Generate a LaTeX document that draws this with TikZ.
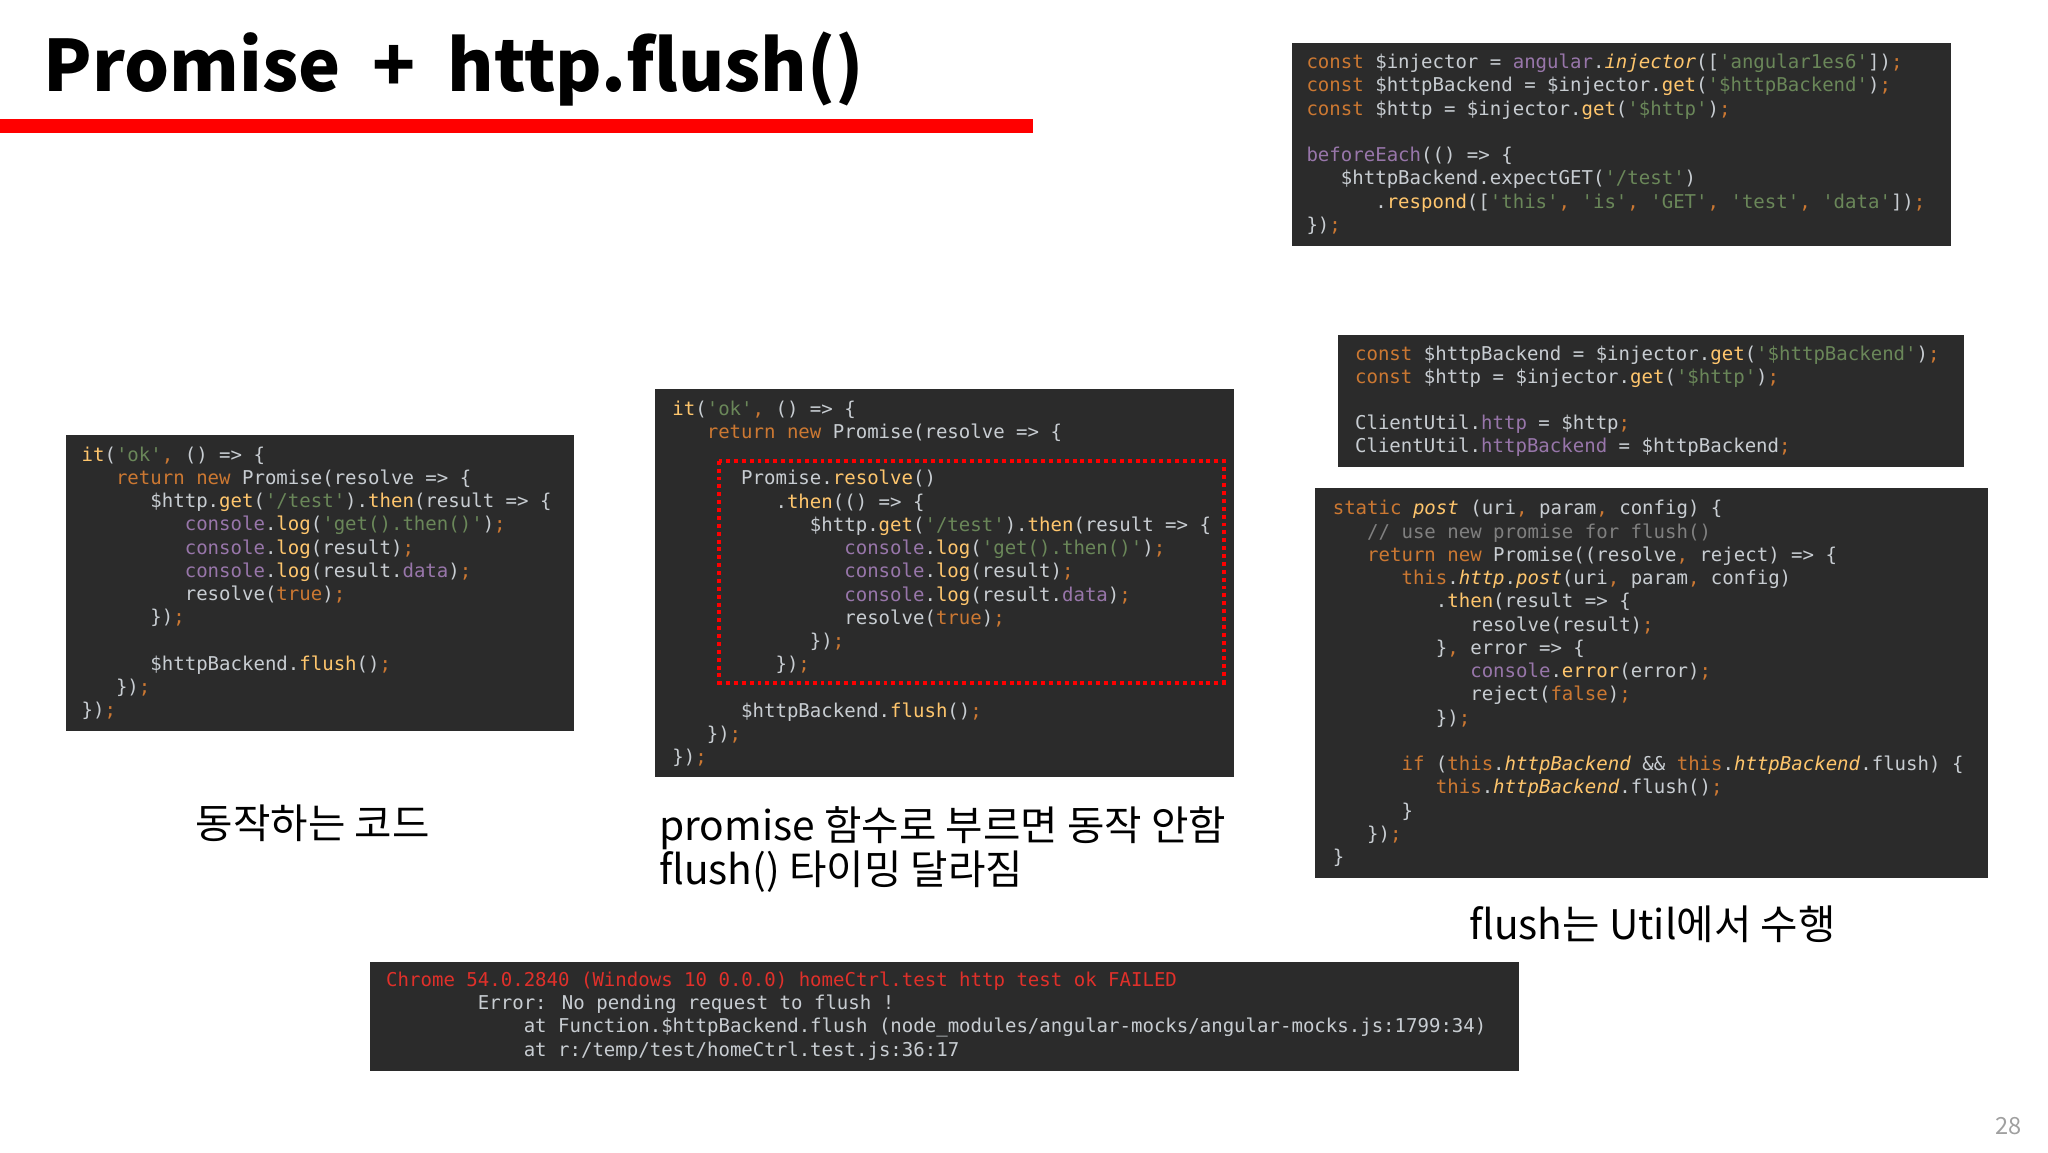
\documentclass[tikz,border=0pt]{standalone}
\usepackage{fontspec}
\setmainfont{Noto Sans CJK KR}
\newfontfamily\codefont{DejaVu Sans Mono}
\newfontfamily\krfont{Noto Sans CJK KR}
\definecolor{codebg}{HTML}{2B2B2B}
\definecolor{codefg}{HTML}{C8CDD2}
\definecolor{ckw}{HTML}{CC7832}
\definecolor{cstr}{HTML}{6A8759}
\definecolor{cpu}{HTML}{9876AA}
\definecolor{cye}{HTML}{FFC66D}
\definecolor{cerr}{HTML}{E0302A}
\definecolor{pgray}{HTML}{A0A0A0}
\newcommand\Kw[1]{\textcolor{ckw}{#1}}
\newcommand\Str[1]{\textcolor{cstr}{#1}}
\newcommand\Pu[1]{\textcolor{cpu}{#1}}
\newcommand\Ye[1]{\textcolor{cye}{#1}}
\newcommand\ind[1]{\hspace*{#1\dimexpr0.602em\relax}}
\tikzset{
  codebox/.style={fill=codebg, draw=none},
  code/.style={anchor=north west, align=left, inner sep=0pt, text=codefg,
    font=\codefont\fontsize{14.5}{17.7}\selectfont},
  caption/.style={anchor=base west, inner sep=0pt, font=\krfont\fontsize{31}{36}\selectfont, text=black}
}
\begin{document}
\begin{tikzpicture}[x=1pt,y=-1pt]
\useasboundingbox (0,0) rectangle (1560,878);
% title
\node[anchor=base west, inner sep=0pt, font=\krfont\bfseries\fontsize{54}{60}\selectfont] (title) at (33,70) {Promise\hspace{0.45em}+\hspace{0.45em}http.flush()};
\fill[red] (0,91) rectangle (787,101);
% block A
\fill[codebox] (984,33) rectangle (1486,187);
\node[code] (ca) at (995,41) {\Kw{const} \$injector = \Pu{angular}.\Ye{\textit{injector}}([\Str{'angular1es6'}])\Kw{;}\\
\Kw{const} \$httpBackend = \$injector.\Ye{get}(\Str{'\$httpBackend'})\Kw{;}\\
\Kw{const} \$http = \$injector.\Ye{get}(\Str{'\$http'})\Kw{;}\\
\mbox{}\\
\Pu{beforeEach}(() => \{\\
\ind3\$httpBackend.expectGET(\Str{'/test'})\\
\ind6.\Ye{respond}([\Str{'this'}\Kw{,} \Str{'is'}\Kw{,} \Str{'GET'}\Kw{,} \Str{'test'}\Kw{,} \Str{'data'}])\Kw{;}\\
\})\Kw{;}};
% block B
\fill[codebox] (1019,255) rectangle (1496,356);
\node[code] (cb) at (1032,263) {\Kw{const} \$httpBackend = \$injector.\Ye{get}(\Str{'\$httpBackend'})\Kw{;}\\
\Kw{const} \$http = \$injector.\Ye{get}(\Str{'\$http'})\Kw{;}\\
\mbox{}\\
ClientUtil.\Pu{http} = \$http\Kw{;}\\
ClientUtil.\Pu{httpBackend} = \$httpBackend\Kw{;}};
% block C
\fill[codebox] (1002,372) rectangle (1514,669);
\node[code] (cc) at (1015,381) {\Kw{static} \Ye{\textit{post}} (uri\Kw{,} param\Kw{,} config) \{\\
\ind3\textcolor{gray}{// use new promise for flush()}\\
\ind3\Kw{return new} Promise((resolve\Kw{,} reject) => \{\\
\ind6\Kw{this}.\Ye{\textit{http}}.\Ye{\textit{post}}(uri\Kw{,} param\Kw{,} config)\\
\ind9.\Ye{then}(result => \{\\
\ind{12}resolve(result)\Kw{;}\\
\ind9\}\Kw{,} error => \{\\
\ind{12}\Pu{console}.\Ye{error}(error)\Kw{;}\\
\ind{12}reject(\Kw{false})\Kw{;}\\
\ind9\})\Kw{;}\\
\mbox{}\\
\ind6\Kw{if} (\Kw{this}.\Ye{\textit{httpBackend}} \&\& \Kw{this}.\Ye{\textit{httpBackend}}.flush) \{\\
\ind9\Kw{this}.\Ye{\textit{httpBackend}}.flush()\Kw{;}\\
\ind6\}\\
\ind3\})\Kw{;}\\
\}};
% left block
\fill[codebox] (50,331) rectangle (437,557);
\node[code] (cl) at (62,340) {\Ye{it}(\Str{'ok'}\Kw{,} () => \{\\
\ind3\Kw{return new} Promise(resolve => \{\\
\ind6\$http.\Ye{get}(\Str{'/test'}).\Ye{then}(result => \{\\
\ind9\Pu{console}.\Ye{log}(\Str{'get().then()'})\Kw{;}\\
\ind9\Pu{console}.\Ye{log}(result)\Kw{;}\\
\ind9\Pu{console}.\Ye{log}(result.\Pu{data})\Kw{;}\\
\ind9resolve(\Kw{true})\Kw{;}\\
\ind6\})\Kw{;}\\
\mbox{}\\
\ind6\$httpBackend.\Ye{flush}()\Kw{;}\\
\ind3\})\Kw{;}\\
\})\Kw{;}};
% middle block
\fill[codebox] (499,296) rectangle (940,592);
\node[code] (cm) at (512,305) {\Ye{it}(\Str{'ok'}\Kw{,} () => \{\\
\ind3\Kw{return new} Promise(resolve => \{\\
\mbox{}\\
\ind6Promise.\Ye{resolve}()\\
\ind9.\Ye{then}(() => \{\\
\ind{12}\$http.\Ye{get}(\Str{'/test'}).\Ye{then}(result => \{\\
\ind{15}\Pu{console}.\Ye{log}(\Str{'get().then()'})\Kw{;}\\
\ind{15}\Pu{console}.\Ye{log}(result)\Kw{;}\\
\ind{15}\Pu{console}.\Ye{log}(result.\Pu{data})\Kw{;}\\
\ind{15}resolve(\Kw{true})\Kw{;}\\
\ind{12}\})\Kw{;}\\
\ind9\})\Kw{;}\\
\mbox{}\\
\ind6\$httpBackend.\Ye{flush}()\Kw{;}\\
\ind3\})\Kw{;}\\
\})\Kw{;}};
\draw[red, line width=3pt, dash pattern=on 3pt off 3pt] (548,351) rectangle (932,520);
% error block
\fill[codebox] (282,733) rectangle (1157,816);
\node[code, text=codefg] (ce) at (294,740) {\textcolor{cerr}{Chrome 54.0.2840 (Windows 10 0.0.0) homeCtrl.test http test ok FAILED}\\
\ind8Error: No pending request to flush !\\
\ind{12}at Function.\$httpBackend.flush (node\_modules/angular-mocks/angular-mocks.js:1799:34)\\
\ind{12}at r:/temp/test/homeCtrl.test.js:36:17};
% captions
\node[caption] (cap1) at (149,639) {동작하는 코드};
\node[caption] (cap2a) at (502,640) {promise 함수로 부르면 동작 안함};
\node[caption] (cap2b) at (502,674) {flush() 타이밍 달라짐};
\node[caption] (cap3) at (1119,716) {flush는 Util에서 수행};
\node[anchor=base east, inner sep=0pt, text=pgray, font=\krfont\fontsize{18}{20}\selectfont] (pg) at (1540,864) {28};
\end{tikzpicture}
\end{document}
